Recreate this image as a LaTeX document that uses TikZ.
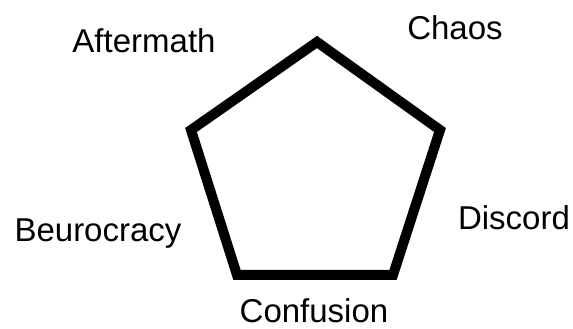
\documentclass[tikz,border=0pt]{standalone}
\usepackage{fontspec}
\setmainfont{Liberation Sans}
\usepackage{tikz}

\begin{document}
\begin{tikzpicture}[
    x=1pt, y=1pt,
    phase/.style={anchor=base, inner sep=0pt, font=\fontsize{33}{40}\selectfont},
    edge/.style={line width=10pt, line join=miter}
]
\useasboundingbox (0,0) rectangle (573,329);

% Corners
\coordinate (top) at (317, 287);
\coordinate (right) at (440, 199);
\coordinate (lowright) at (393, 54);
\coordinate (lowleft) at (237, 54);
\coordinate (left) at (191, 199);

% Labels
\node[phase] (chaos) at (455, 289) {Chaos};
\node[phase] (discord) at (514, 99) {Discord};
\node[phase] (confusion) at (314, 6) {Confusion};
\node[phase] (beurocracy) at (98, 87) {Beurocracy};
\node[phase] (aftermath) at (144, 276) {Aftermath};

% Pentagon
\draw[edge] (top) -- (right) -- (lowright) -- (lowleft) -- (left) -- cycle;

\end{tikzpicture}
\end{document}
